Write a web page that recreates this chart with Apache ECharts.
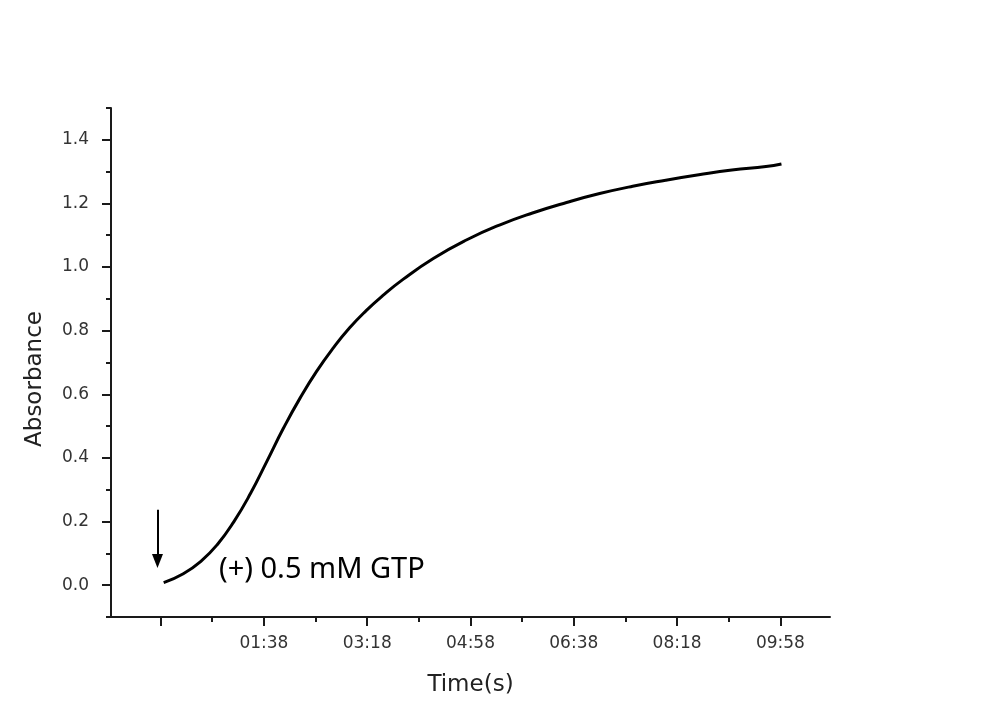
<!DOCTYPE html>
<html>
<head>
<meta charset="utf-8">
<script src="https://cdn.jsdelivr.net/npm/echarts@6/dist/echarts.min.js"></script>
<style>html,body{margin:0;padding:0;background:#fff;}#c{width:1008px;height:711px;}</style>
</head>
<body>
<div id="c"></div>
<script>
// time in seconds, absorbance
var times = [1, 20, 37, 53, 69, 85, 101, 117, 133, 149, 165, 181, 197, 213, 233, 262, 294, 326, 358, 391, 423, 455, 487, 519, 551, 584, 599];
var absorbance = [0.008, 0.036, 0.075, 0.128, 0.200, 0.288, 0.390, 0.494, 0.588, 0.672, 0.745, 0.809, 0.863, 0.910, 0.962, 1.027, 1.085, 1.132, 1.170, 1.203, 1.231, 1.254, 1.273, 1.290, 1.305, 1.316, 1.324];
var xMajorTicks = [-2, 98, 198, 298, 398, 498, 598];
var xMinorTicks = [48, 148, 248, 348, 448, 548];
var yMajorTicks = [0, 0.2, 0.4, 0.6, 0.8, 1.0, 1.2, 1.4];
var yMinorTicks = [-0.1, 0.1, 0.3, 0.5, 0.7, 0.9, 1.1, 1.3, 1.5];
var annotationText = '(+) 0.5 mM GTP';
var arrowX = -5;
var arrowFrom = 0.237, arrowTo = 0.076;

function fmtTime(v) {
  if (v < 0) return '';
  var m = Math.floor(v / 60), s = Math.round(v - m * 60);
  return (m < 10 ? '0' : '') + m + ':' + (s < 10 ? '0' : '') + s;
}

var data = times.map(function (t, i) { return [t, absorbance[i]]; });
var chart = echarts.init(document.getElementById('c'));
var axisColor = '#1a1a1a';
var labelStyle = { fontFamily: 'DejaVu Sans', fontSize: 17, color: '#333' };

chart.setOption({
  animation: false,
  backgroundColor: '#fff',
  grid: { left: 111, right: 178, top: 108, bottom: 94 },
  xAxis: [{
    type: 'value', min: -50, max: 646,
    name: 'Time(s)', nameLocation: 'middle', nameGap: 57,
    nameTextStyle: { fontFamily: 'DejaVu Sans', fontSize: 23, color: '#222' },
    axisLine: { show: true, onZero: false, lineStyle: { color: axisColor, width: 2 } },
    axisTick: { show: true, length: 9, customValues: xMajorTicks, lineStyle: { color: axisColor, width: 2 } },
    axisLabel: Object.assign({ customValues: xMajorTicks, margin: 18, formatter: fmtTime }, labelStyle),
    splitLine: { show: false }
  }, {
    type: 'value', min: -50, max: 646, position: 'bottom',
    axisLine: { show: false, onZero: false },
    axisTick: { show: true, length: 5, customValues: xMinorTicks, lineStyle: { color: axisColor, width: 2 } },
    axisLabel: { show: false },
    splitLine: { show: false }
  }],
  yAxis: [{
    type: 'value', min: -0.1, max: 1.5,
    axisLine: { show: true, onZero: false, lineStyle: { color: axisColor, width: 2 } },
    axisTick: { show: true, length: 9, customValues: yMajorTicks, lineStyle: { color: axisColor, width: 2 } },
    axisLabel: Object.assign({ customValues: yMajorTicks, margin: 22, formatter: function (v) { return v.toFixed(1); } }, labelStyle),
    splitLine: { show: false }
  }, {
    type: 'value', min: -0.1, max: 1.5, position: 'left',
    axisLine: { show: false, onZero: false },
    axisTick: { show: true, length: 5, customValues: yMinorTicks, lineStyle: { color: axisColor, width: 2 } },
    axisLabel: { show: false },
    splitLine: { show: false }
  }],
  series: [{
    type: 'line', data: data, smooth: true, showSymbol: false,
    lineStyle: { color: '#000', width: 3 },
    markLine: {
      silent: true, symbol: ['none', 'triangle'], symbolSize: [11, 14],
      itemStyle: { color: '#000' },
      lineStyle: { color: '#000', width: 2, type: 'solid' },
      label: { show: false },
      data: [[{ coord: [arrowX, arrowFrom] }, { coord: [arrowX, arrowTo] }]]
    }
  }],
  graphic: [{
    type: 'text', left: 219, top: 555,
    style: { text: annotationText, fontFamily: 'Noto Sans', fontSize: 29, fill: '#000' }
  }, {
    type: 'text', x: 35, y: 379, rotation: Math.PI / 2,
    style: { text: 'Absorbance', fontFamily: 'DejaVu Sans', fontSize: 23, fill: '#222', align: 'center', verticalAlign: 'middle' }
  }]
});
</script>
</body>
</html>
